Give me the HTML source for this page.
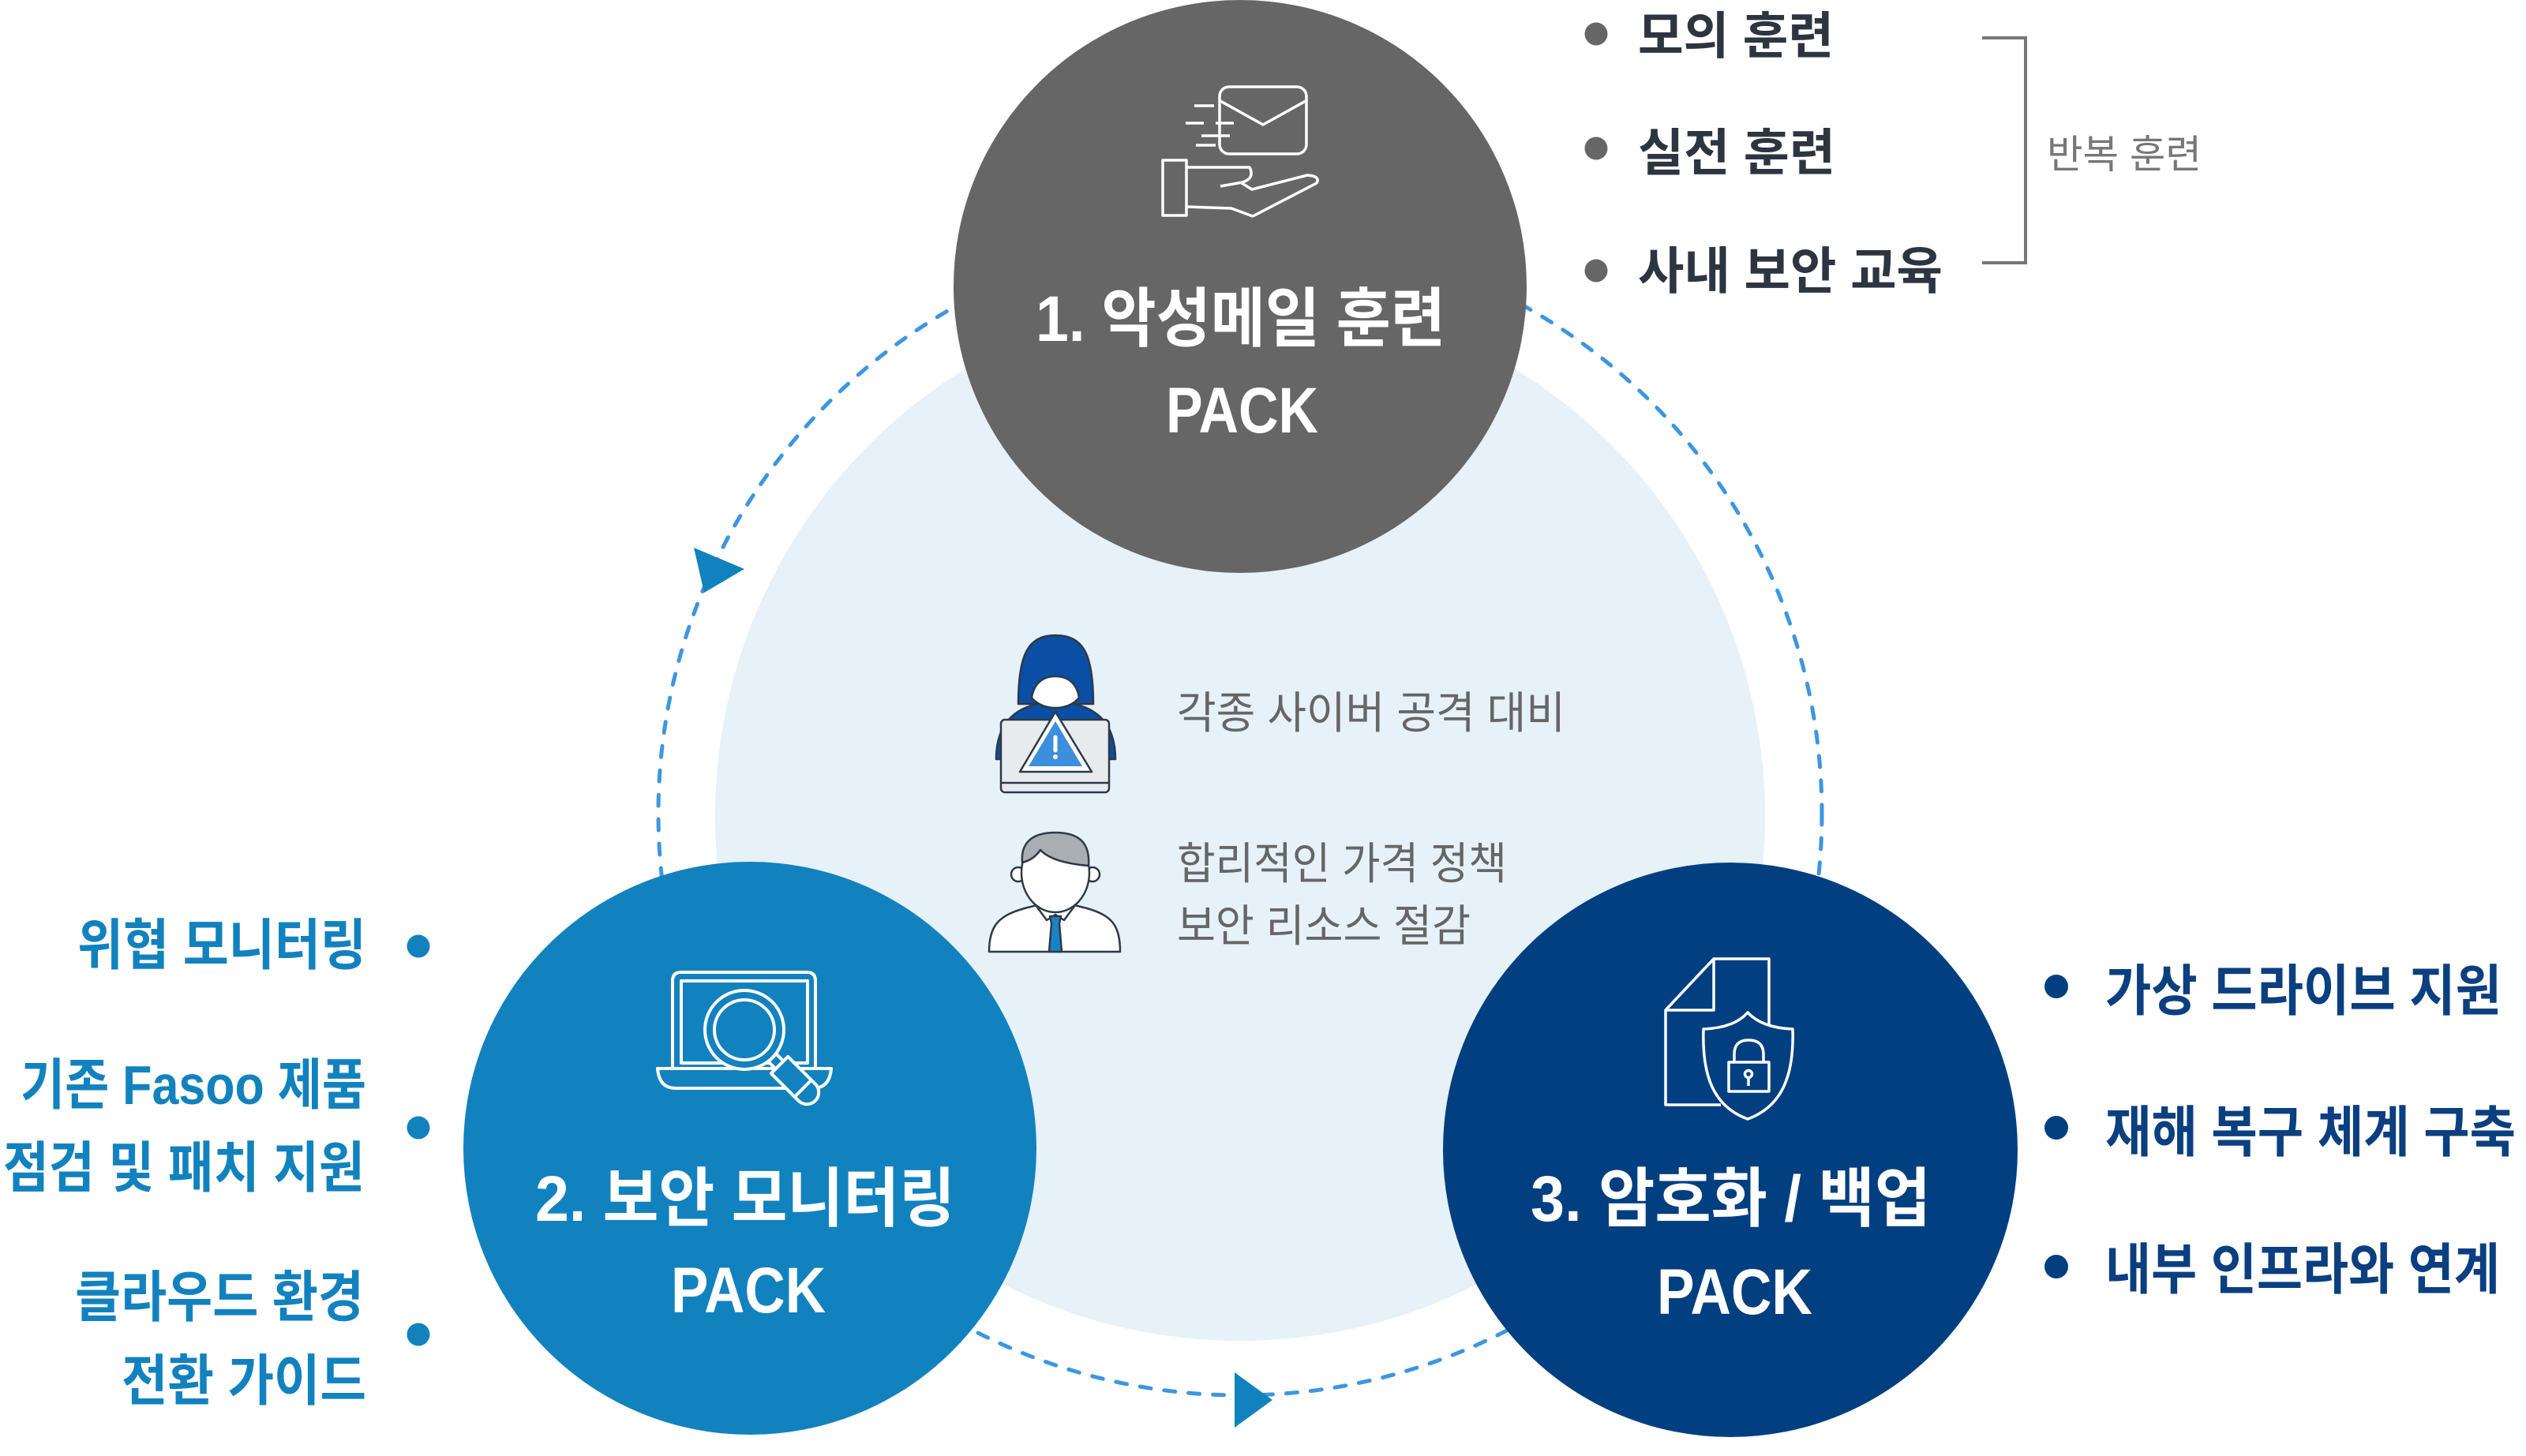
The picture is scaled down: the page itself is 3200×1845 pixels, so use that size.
<!DOCTYPE html>
<html><head><meta charset="utf-8">
<style>
html,body{margin:0;padding:0;background:#fff;}
svg{display:block;}
.t{font-family:"Liberation Sans","Noto Sans CJK KR",sans-serif;}
.b{font-weight:700;}
.r{font-weight:400;}
</style></head>
<body>
<svg width="3200" height="1845" viewBox="0 0 3200 1845" xmlns="http://www.w3.org/2000/svg">
<rect width="3200" height="1845" fill="#fff"/>
<!-- light center circle -->
<circle cx="1571" cy="1034" r="665" fill="#e6f1f8"/>
<!-- dashed cycle -->
<circle cx="1571" cy="1031" r="737" fill="none" stroke="#3d96e0" stroke-width="5" stroke-dasharray="14 17" stroke-linecap="round"/>
<!-- main circles -->
<circle cx="1571" cy="363" r="363" fill="#666666"/>
<circle cx="950" cy="1455" r="363" fill="#1282bf"/>
<circle cx="2192" cy="1457" r="364" fill="#023f80"/>
<!-- arrows -->
<polygon points="879,694 892,751 943,721" fill="#1282bf"/>
<polygon points="1564,1739 1564,1809 1612,1774" fill="#1282bf"/>

<!-- circle 1 icon: envelope + hand -->
<g fill="none" stroke="#fff" stroke-width="3.5" stroke-linejoin="round">
  <rect x="1545" y="110" width="110" height="85" rx="12"/>
  <polyline points="1546,128 1600,158 1654,128"/>
  <line x1="1513" y1="134" x2="1538" y2="134"/>
  <line x1="1502" y1="156" x2="1525" y2="156"/>
  <line x1="1540" y1="156" x2="1563" y2="156"/>
  <line x1="1522" y1="172" x2="1558" y2="172"/>
  <line x1="1515" y1="184" x2="1540" y2="184"/>
  <rect x="1473" y="203" width="30" height="70"/>
  <path d="M1503,212 L1583,212 Q1590,226 1574,231 L1546,236"/>
  <path d="M1573,232 L1586,240 L1656,222 Q1673,223 1668,232 L1587,274 L1560,264 L1503,262"/>
</g>

<!-- circle 2 icon: laptop + magnifier -->
<g fill="none" stroke="#fff" stroke-width="4" stroke-linejoin="round">
  <path d="M852,1354 V1243 Q852,1232 863,1232 H1022 Q1033,1232 1033,1243 V1354"/>
  <rect x="863" y="1243" width="160" height="104"/>
  <path d="M833,1354 H1053 Q1051,1379 1030,1379 H856 Q835,1379 833,1354 Z"/>
  <g transform="translate(943,1305) rotate(45)">
    <rect x="50" y="-7" width="13" height="14" fill="#1282bf"/>
    <path d="M63,-15 H112 A15,15 0 0 1 112,15 H63 Z" fill="#1282bf"/>
    <line x1="105" y1="-15" x2="105" y2="15"/>
  </g>
  <circle cx="943" cy="1305" r="50" fill="#1282bf"/>
  <circle cx="943" cy="1305" r="38"/>
</g>

<!-- circle 3 icon: document + shield + lock -->
<g fill="none" stroke="#fff" stroke-width="3.5" stroke-linejoin="round">
  <path d="M2241,1298 V1215 H2171 L2110,1280 V1400 H2180"/>
  <path d="M2171,1215 V1280 H2110"/>
  <path d="M2214,1283 C2202,1297 2182,1303 2158,1304 C2156,1362 2170,1402 2214,1418 C2258,1402 2273,1362 2271,1304 C2247,1303 2227,1297 2214,1283 Z"/>
  <rect x="2190" y="1346" width="51" height="37"/>
  <path d="M2197,1346 V1336 Q2197,1318 2215,1318 Q2234,1318 2234,1336 V1346"/>
  <circle cx="2215" cy="1361" r="4.5"/>
  <line x1="2215" y1="1366" x2="2215" y2="1376"/>
</g>

<!-- hacker icon -->
<g stroke="#2e3a46" stroke-width="2.5" stroke-linejoin="round">
  <path d="M1262,962 C1262,905 1300,890 1337,890 C1375,890 1413,905 1413,962 Z" fill="#0a4ea5"/>
  <path d="M1290,892 C1290,830 1302,805 1337,805 C1373,805 1385,830 1385,892 Z" fill="#0a4ea5"/>
  <path d="M1307,884 C1310,865 1322,857 1337,857 C1352,857 1364,865 1367,884 C1360,893 1348,897 1337,897 C1326,897 1314,893 1307,884 Z" fill="#fff"/>
  <rect x="1268" y="912" width="137" height="92" rx="5" fill="#e8ebee"/>
  <line x1="1268" y1="992" x2="1405" y2="992"/>
  <polygon points="1337,902 1292,978 1383,978" fill="#fff"/>
  <polygon points="1337,914 1303,971 1371,971" fill="#3b8fdc" stroke="none"/>
</g>
<line x1="1337" y1="934" x2="1337" y2="951" stroke="#fff" stroke-width="5" stroke-linecap="round"/>
<circle cx="1337" cy="959" r="3" fill="#fff"/>

<!-- businessman icon -->
<g stroke="#2e3a46" stroke-width="2.5" stroke-linejoin="round">
  <path d="M1253,1206 C1253,1172 1266,1160 1298,1151 L1337,1141 L1377,1151 C1408,1160 1419,1172 1419,1206 Z" fill="#fff"/>
  <polyline points="1312,1147 1326,1166 1337,1159 1348,1166 1362,1147" fill="#fff"/>
  <polygon points="1330,1161 1344,1161 1342,1170 1345,1206 1329,1206 1332,1170" fill="#1a82c6"/>
  <circle cx="1290" cy="1108" r="9" fill="#fff"/>
  <circle cx="1384" cy="1108" r="9" fill="#fff"/>
  <ellipse cx="1337" cy="1106" rx="43" ry="50" fill="#fff"/>
  <path d="M1295,1093 C1293,1070 1305,1055 1337,1055 C1369,1055 1381,1070 1379,1097 C1355,1095 1330,1090 1318,1077 C1312,1086 1303,1091 1295,1093 Z" fill="#a9aeb3"/>
</g>

<!-- circle titles -->
<g class="t b" fill="#fff" font-size="82">
  <text x="1312" y="432" textLength="519" lengthAdjust="spacingAndGlyphs">1. 악성메일 훈련</text>
  <text x="1477" y="548" textLength="193" lengthAdjust="spacingAndGlyphs">PACK</text>
  <text x="678" y="1547" textLength="532" lengthAdjust="spacingAndGlyphs">2. 보안 모니터링</text>
  <text x="850" y="1663" textLength="196" lengthAdjust="spacingAndGlyphs">PACK</text>
  <text x="1939" y="1547" textLength="507" lengthAdjust="spacingAndGlyphs">3. 암호화 / 백업</text>
  <text x="2099" y="1665" textLength="197" lengthAdjust="spacingAndGlyphs">PACK</text>
</g>

<!-- top-right list -->
<g fill="#666">
  <circle cx="2022" cy="43" r="14.5"/>
  <circle cx="2022" cy="188" r="14.5"/>
  <circle cx="2022" cy="343" r="14.5"/>
</g>
<g class="t b" fill="#2d3540" font-size="64">
  <text x="2075" y="68" textLength="248" lengthAdjust="spacingAndGlyphs">모의 훈련</text>
  <text x="2075" y="216" textLength="250" lengthAdjust="spacingAndGlyphs">실전 훈련</text>
  <text x="2075" y="366" textLength="386" lengthAdjust="spacingAndGlyphs">사내 보안 교육</text>
</g>
<path d="M2511,48 H2566 V333 H2511" fill="none" stroke="#777" stroke-width="4"/>
<text class="t r" x="2593" y="213" font-size="50" fill="#777" textLength="196" lengthAdjust="spacingAndGlyphs">반복 훈련</text>

<!-- center texts -->
<g class="t r" fill="#666" font-size="56">
  <text x="1491" y="923" textLength="492" lengthAdjust="spacingAndGlyphs">각종 사이버 공격 대비</text>
  <text x="1491" y="1114" textLength="418" lengthAdjust="spacingAndGlyphs">합리적인 가격 정책</text>
  <text x="1491" y="1193" textLength="372" lengthAdjust="spacingAndGlyphs">보안 리소스 절감</text>
</g>

<!-- left list -->
<g fill="#1282bf">
  <circle cx="530" cy="1199" r="14.5"/>
  <circle cx="530" cy="1429" r="14.5"/>
  <circle cx="530" cy="1691" r="14.5"/>
</g>
<g class="t b" fill="#1282bf" font-size="70">
  <text x="98" y="1222" textLength="366" lengthAdjust="spacingAndGlyphs">위협 모니터링</text>
  <text x="26" y="1399" textLength="438" lengthAdjust="spacingAndGlyphs">기존 Fasoo 제품</text>
  <text x="4" y="1504" textLength="458" lengthAdjust="spacingAndGlyphs">점검 및 패치 지원</text>
  <text x="95" y="1668" textLength="366" lengthAdjust="spacingAndGlyphs">클라우드 환경</text>
  <text x="154" y="1774" textLength="310" lengthAdjust="spacingAndGlyphs">전환 가이드</text>
</g>

<!-- right list -->
<g fill="#023f80">
  <circle cx="2605" cy="1250" r="15"/>
  <circle cx="2605" cy="1429" r="15"/>
  <circle cx="2605" cy="1605" r="15"/>
</g>
<g class="t b" fill="#0b3f80" font-size="70">
  <text x="2667" y="1280" textLength="502" lengthAdjust="spacingAndGlyphs">가상 드라이브 지원</text>
  <text x="2667" y="1459" textLength="520" lengthAdjust="spacingAndGlyphs">재해 복구 체계 구축</text>
  <text x="2667" y="1633" textLength="500" lengthAdjust="spacingAndGlyphs">내부 인프라와 연계</text>
</g>
</svg>
</body></html>
